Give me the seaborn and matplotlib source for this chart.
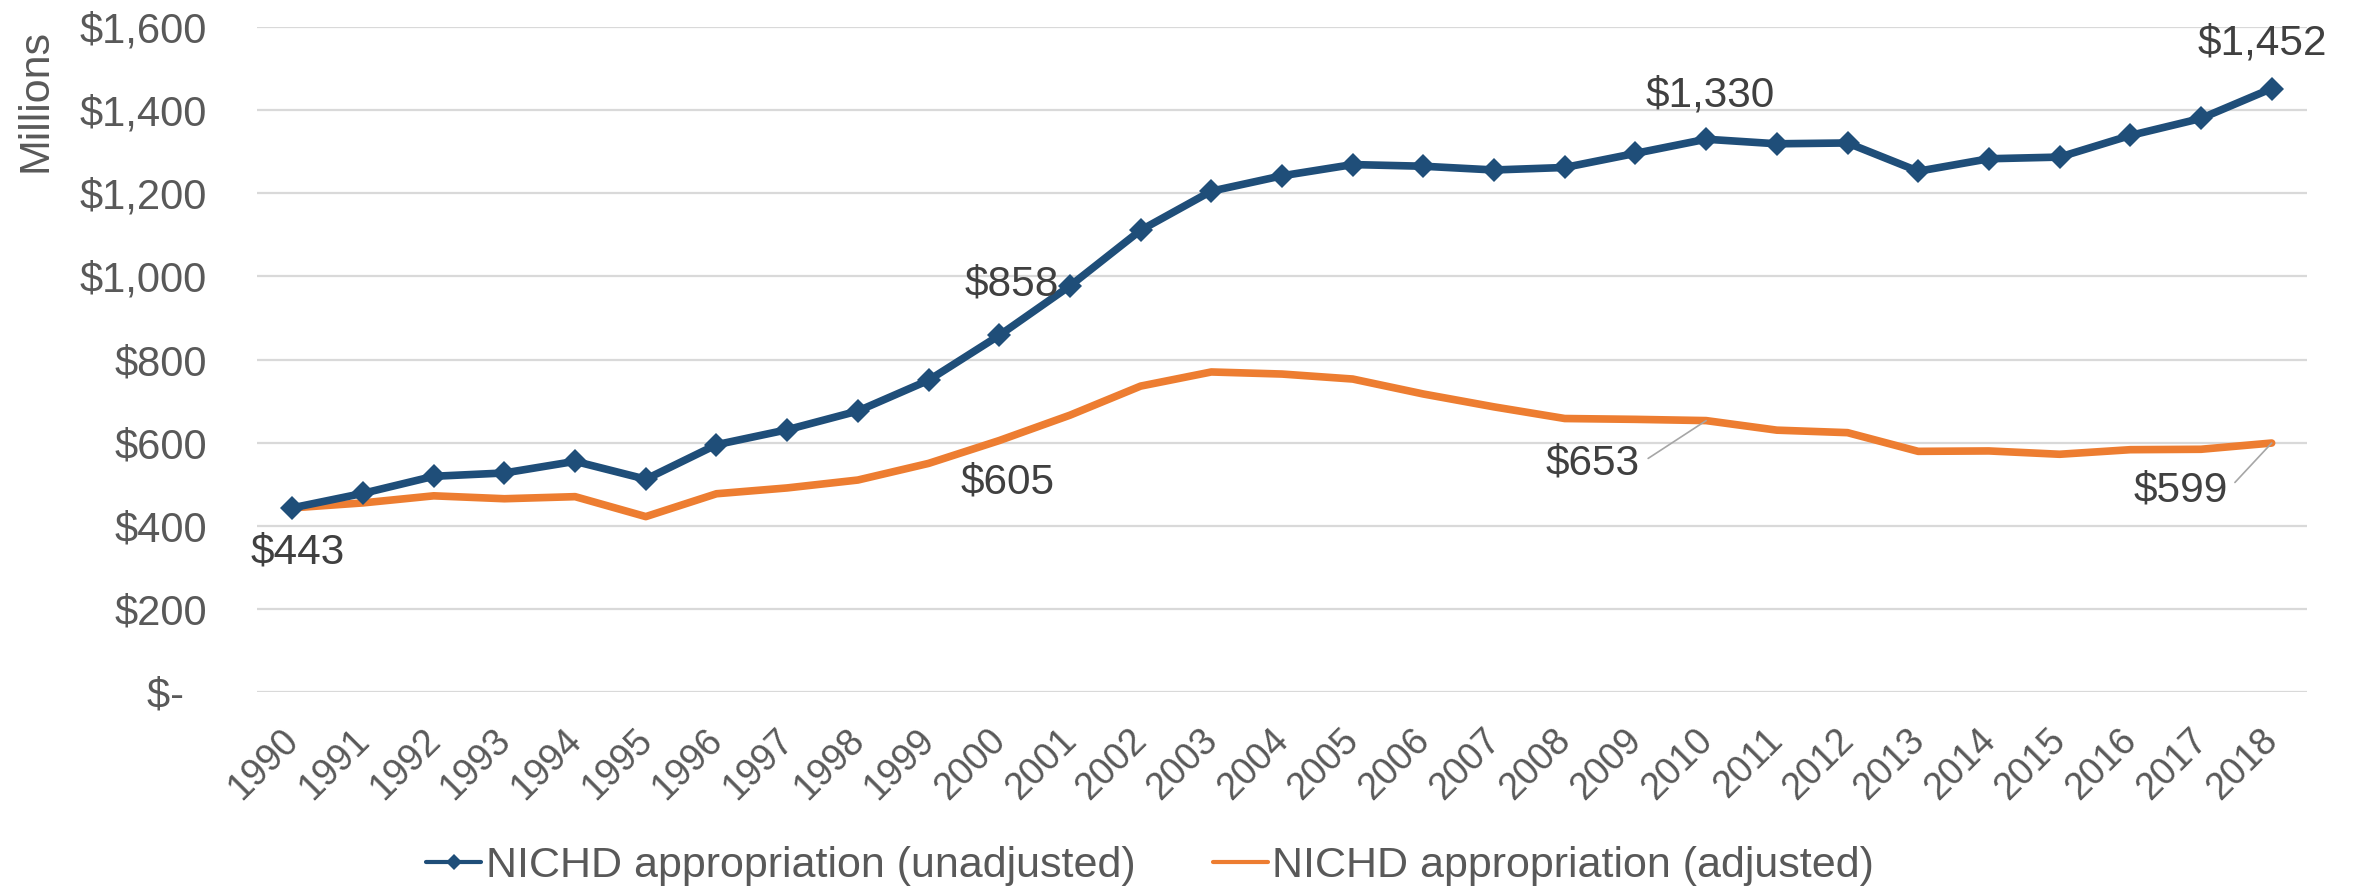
"""NICHD appropriation 1990-2018, unadjusted vs adjusted (millions of dollars)."""

import matplotlib
matplotlib.use("Agg")
import matplotlib.pyplot as plt
import matplotlib.transforms as mtransforms
from matplotlib.lines import Line2D
from matplotlib.ticker import FuncFormatter, MultipleLocator
import pandas as pd
import seaborn as sns

YEARS = list(range(1990, 2019))
UNADJUSTED = [443, 478, 519, 527, 555, 512, 595, 631, 676, 750, 858, 977, 1111, 1205,
              1242, 1269, 1265, 1256, 1262, 1296, 1330, 1319, 1321, 1253, 1283, 1287,
              1339, 1380, 1452]
ADJUSTED = [443, 455, 472, 465, 470, 422, 477, 491, 510, 550, 605, 666, 736, 770, 765,
            753, 717, 686, 658, 656, 653, 630, 624, 579, 580, 572, 583, 584, 599]
LABEL_UNADJ = "NICHD appropriation (unadjusted)"
LABEL_ADJ = "NICHD appropriation (adjusted)"

BLUE = "#1F4E79"
ORANGE = "#ED7D31"
TICK_GREY = "#595959"
TEXT_GREY = "#404040"

# (year, series, offset x px, offset y px, leader line)
CALLOUTS = [
    (1990, "unadj", 5, -45, False),
    (2000, "unadj", 13, 51, False),
    (2010, "unadj", 4, 44, False),
    (2018, "unadj", -9, 45, False),
    (2000, "adj", 8, -42, False),
    (2010, "adj", -113, -43, True),
    (2018, "adj", -91, -47, True),
]


def setup_style():
    sns.set_theme(style="white")
    plt.rcParams.update({
        "font.family": ["Liberation Sans", "DejaVu Sans"],
        "axes.spines.top": False,
        "axes.spines.right": False,
        "axes.spines.left": False,
        "axes.spines.bottom": False,
    })


def main():
    setup_style()
    df = pd.DataFrame({"year": YEARS, "unadj": UNADJUSTED, "adj": ADJUSTED})

    fig = plt.figure(figsize=(23.54, 8.90), dpi=100)
    ax = fig.add_axes([257 / 2354, 1 - 692 / 890, (2307 - 257) / 2354, (692 - 27) / 890])

    sns.lineplot(data=df, x="year", y="unadj", color=BLUE, linewidth=5.5, marker="D",
                 markersize=12.5, markeredgewidth=0, ax=ax, zorder=3)
    sns.lineplot(data=df, x="year", y="adj", color=ORANGE, linewidth=5.5, ax=ax, zorder=2)

    ax.set_xlim(YEARS[0] - 0.5, YEARS[-1] + 0.5)
    ax.set_ylim(0, 1600)
    ax.yaxis.set_major_locator(MultipleLocator(200))
    ax.yaxis.set_major_formatter(FuncFormatter(
        lambda v, _: "$-  " if v == 0 else f"${v:,.0f}"))
    ax.set_xticks(YEARS)
    ax.tick_params(axis="both", length=0, colors=TICK_GREY)
    ax.tick_params(axis="y", labelsize=30, pad=36)
    ax.tick_params(axis="x", labelsize=27, pad=22)
    ax.set_xticklabels([str(y) for y in YEARS], rotation=45, ha="right",
                       rotation_mode="anchor")
    # nudge year labels left so their ends sit on the tick
    shift = mtransforms.ScaledTranslation(-12 / 100, 0, fig.dpi_scale_trans)
    for lbl in ax.get_xticklabels():
        lbl.set_transform(lbl.get_transform() + shift)
    ax.grid(axis="y", color="#D9D9D9", lw=1.6)
    ax.grid(axis="x", visible=False)
    ax.set_xlabel("")
    ax.set_ylabel("")
    fig.text(35 / 2354, 1 - 101 / 890, "Millions", rotation=90, ha="center",
             va="center", fontsize=31, color=TICK_GREY)

    for year, series, dx, dy, leader in CALLOUTS:
        value = df.loc[df["year"] == year, series].iloc[0]
        kw = {}
        if leader:
            kw["arrowprops"] = dict(arrowstyle="-", color="#A6A6A6", lw=1.2,
                                    relpos=(1.0, 0.5), shrinkA=4, shrinkB=0)
        ax.annotate(f"${value:,.0f}", xy=(year, value), xytext=(dx, dy),
                    textcoords="offset pixels", ha="center", va="center",
                    fontsize=30.5, color=TEXT_GREY, **kw)

    handles = [
        Line2D([], [], color=BLUE, lw=3, marker="D", markersize=8.5, markeredgewidth=0),
        Line2D([], [], color=ORANGE, lw=3),
    ]
    fig.legend(handles, [LABEL_UNADJ, LABEL_ADJ], loc="center",
               bbox_to_anchor=(0.4886, 0.027), ncol=2, frameon=False, fontsize=31,
               labelcolor=TICK_GREY, handlelength=1.28, handletextpad=0.1,
               columnspacing=1.8, borderpad=0)

    fig.savefig("out.png", dpi=100)


if __name__ == "__main__":
    main()
